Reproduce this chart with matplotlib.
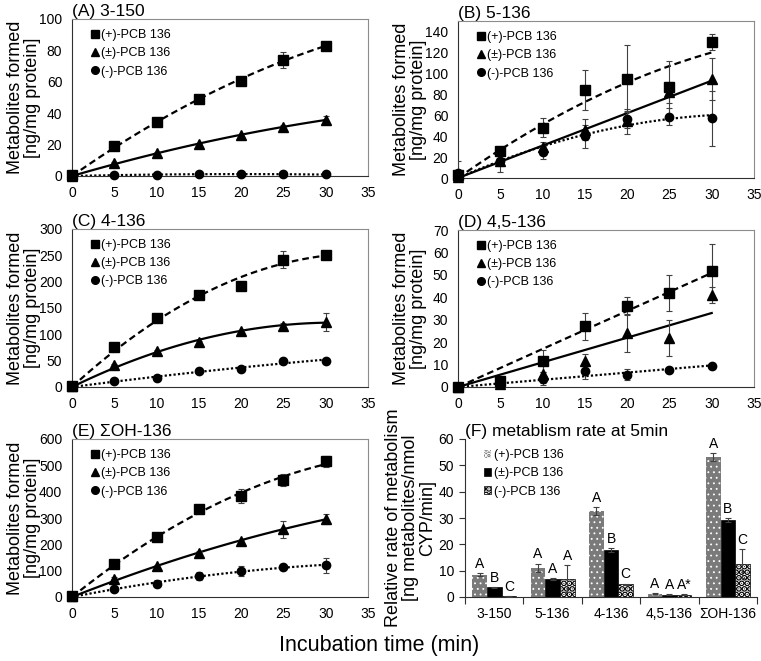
import numpy as np
import matplotlib.pyplot as plt
from matplotlib.lines import Line2D
from matplotlib.patches import Patch

plt.rcParams['font.family'] = ['Liberation Sans', 'DejaVu Sans']

# ---- data ----
time_min = [0, 5, 10, 15, 20, 25, 30]
series_labels = ['(+)-PCB 136', '(±)-PCB 136', '(-)-PCB 136']

# (A) 3-150
a_plus = [0.5, 19.1, 34.7, 49.0, 60.4, 74.0, 83.0]
a_plus_err = [0, 0.5, 1, 1, 2, 5, 1.5]
a_rac = [0.3, 8.1, 14.5, 20.2, 26.2, 31.5, 35.7]
a_rac_err = [0, 0.5, 0.5, 0.5, 0.5, 1, 2.2]
a_minus = [0.2, 0.5, 0.8, 1.5, 1.0, 1.0, 1.0]
a_minus_err = [0, 0, 0, 0.3, 0, 0, 0]

# (B) 5-136
b_plus = [3, 26, 48, 84, 95, 86.5, 130]
b_plus_err = [3, 3, 9, 19, 32, 25, 8]
b_rac = [1, 16, 30, 46, 54, 82, 95]
b_rac_err = [2, 10, 4, 10, 12, 10, 20]
b_minus = [5, 16, 25, 40, 56, 58.5, 57]
b_minus_err = [11, 5, 7, 11, 8, 8, 26]

# (C) 4-136
c_plus = [2, 76, 131.6, 175, 191, 241.5, 251]
c_plus_err = [0, 3, 4, 3, 4, 16, 5]
c_rac = [2, 41, 68.7, 86, 106, 116, 124]
c_rac_err = [0, 2, 2, 2, 3, 5, 17]
c_minus = [1, 11, 17, 30, 35, 49, 50]
c_minus_err = [0, 1, 1, 2, 2, 6, 3]

# (D) 4,5-136
d_plus = [0, 2.5, 11.5, 27, 36.2, 42, 51.7]
d_plus_err = [0, 1, 5, 6, 4, 8, 12]
d_rac = [0, 1.5, 6, 11.6, 24, 22, 41]
d_rac_err = [0, 1, 4, 3, 8.5, 8, 3.5]
d_minus = [0, 1.5, 3.7, 7, 5.5, 7.8, 9.2]
d_minus_err = [0, 0.5, 3, 3.5, 2.5, 1, 0.5]

# (E) sum OH-136
e_plus = [5, 127, 229, 333, 384, 445, 515]
e_plus_err = [5, 5, 8, 12, 28, 22, 20]
e_rac = [5, 70, 117, 168, 212, 257, 297]
e_rac_err = [3, 5, 5, 5, 5, 33, 20]
e_minus = [3, 29, 51, 79, 98, 114, 120]
e_minus_err = [3, 5, 12, 15, 20, 12, 28]

# (F) metabolism rate at 5 min
f_categories = ['3-150', '5-136', '4-136', '4,5-136', 'ΣOH-136']
f_plus = [8.4, 11.1, 32.6, 1.2, 53.2]
f_plus_err = [0.6, 1.6, 1.5, 0.2, 1.6]
f_rac = [3.7, 6.8, 17.8, 0.9, 29.2]
f_rac_err = [0.2, 0.4, 0.8, 0.1, 0.9]
f_minus = [0.2, 7.0, 4.9, 0.6, 12.7]
f_minus_err = [0.1, 5.0, 0.2, 0.6, 5.4]
f_letters_plus = ['A', 'A', 'A', 'A', 'A']
f_letters_rac = ['B', 'A', 'B', 'A', 'B']
f_letters_minus = ['C', 'A', 'C', 'A*', 'C']


def trend(t, y, deg):
    # least squares polynomial through the origin (like an Excel trendline)
    t = np.asarray(t, float)
    y = np.asarray(y, float)
    X = np.column_stack([t ** k for k in range(1, deg + 1)])
    coef = np.linalg.lstsq(X, y, rcond=None)[0]
    tt = np.linspace(0, 30, 120)
    return tt, np.column_stack([tt ** k for k in range(1, deg + 1)]) @ coef


W, H = 761, 661
fig = plt.figure(figsize=(W / 100, H / 100), dpi=100)


def px_axes(left, top, right, bottom):
    return fig.add_axes([left / W, 1 - bottom / H, (right - left) / W, (bottom - top) / H])


markers = ['s', '^', 'o']
msizes = [6.5, 6.5, 6]
lstyles = [(0, (3, 1.8)), '-', (0, (1, 1))]

panels = [
    ('(A) 3-150', (72, 19, 368, 176), (a_plus, a_rac, a_minus),
     (a_plus_err, a_rac_err, a_minus_err), (2, 2, 2), 100, 100, 20),
    ('(B) 5-136', (458, 21, 754, 178), (b_plus, b_rac, b_minus),
     (b_plus_err, b_rac_err, b_minus_err), (2, 1, 2), 150, 140, 20),
    ('(C) 4-136', (72, 229, 368, 387), (c_plus, c_rac, c_minus),
     (c_plus_err, c_rac_err, c_minus_err), (2, 2, 2), 300, 300, 50),
    ('(D) 4,5-136', (458, 230, 754, 387), (d_plus, d_rac, d_minus),
     (d_plus_err, d_rac_err, d_minus_err), (1, 1, 1), 70, 70, 10),
    ('(E) ΣOH-136', (72, 439, 368, 597), (e_plus, e_rac, e_minus),
     (e_plus_err, e_rac_err, e_minus_err), (2, 2, 2), 600, 600, 100),
]

for title, box, ys, errs, degs, ymax, ytop, ystep in panels:
    ax = px_axes(*box)
    for i in range(3):
        tt, yy = trend(time_min, ys[i], degs[i])
        ax.plot(tt, yy, color='black', lw=1.6, linestyle=lstyles[i], zorder=2)
        ax.errorbar(time_min, ys[i], yerr=errs[i], fmt='none', ecolor='#404040',
                    elinewidth=0.8, capsize=2.2, capthick=0.8, zorder=3)
        ax.plot(time_min, ys[i], linestyle='none', marker=markers[i], ms=msizes[i],
                color='black', zorder=4, clip_on=False)
    ax.set_xlim(0, 35)
    ax.set_ylim(0, ymax)
    ax.set_xticks(range(0, 36, 5))
    ax.set_yticks(range(0, ytop + 1, ystep))
    ax.tick_params(length=0, labelsize=10, pad=7)
    for s in ['top', 'right']:
        ax.spines[s].set_color('#8c8c8c')
    for s in ['left', 'bottom']:
        ax.spines[s].set_color('#303030')
    for s in ax.spines.values():
        s.set_linewidth(0.8)
    ax.set_title(title, loc='left', fontsize=12.5, pad=2)
    ax.set_ylabel('Metabolites formed\n[ng/mg protein]', fontsize=13, linespacing=1.0)
    ax.yaxis.set_label_coords(-0.105, 0.5)
    handles = [Line2D([], [], marker=markers[i], ms=msizes[i] - 0.5, color='black', linestyle='none')
               for i in range(3)]
    ax.legend(handles, series_labels, loc='upper left', frameon=False, fontsize=9,
              handlelength=0.6, handletextpad=0.2, labelspacing=0.5,
              borderaxespad=0.4, bbox_to_anchor=(0.03, 1.0))

# ---- panel F: bars ----
ax = px_axes(465, 439, 757, 597)
x = np.arange(len(f_categories))
w = 0.25
bar_sets = [
    (f_plus, f_plus_err, f_letters_plus,
     dict(facecolor='#7a7a7a', edgecolor='white', hatch='...', linewidth=0), 0.6),
    (f_rac, f_rac_err, f_letters_rac,
     dict(facecolor='black', edgecolor='black', linewidth=0.5), 1.0),
    (f_minus, f_minus_err, f_letters_minus,
     dict(facecolor='white', edgecolor='black', hatch='...', linewidth=0.5), 3.2),
]
bar_handles = []
for j, (vals, err, letters, style, hlw) in enumerate(bar_sets):
    plt.rcParams['hatch.linewidth'] = hlw
    pos = x + (j - 1) * w
    ax.bar(pos, vals, width=w, zorder=2, **style)
    bar_handles.append(Patch(**style))
    ax.errorbar(pos, vals, yerr=err, fmt='none', ecolor='#404040', elinewidth=0.8,
                capsize=2.2, capthick=0.8, zorder=3)
    for p, v, e, lab in zip(pos, vals, err, letters):
        ax.text(p, v + e + 0.8, lab, ha='center', va='bottom', fontsize=10)

ax.set_xlim(-0.5, 4.5)
ax.set_ylim(0, 60)
ax.set_yticks(range(0, 61, 10))
ax.set_xticks(x)
ax.set_xticklabels(f_categories)
ax.set_xticks(np.arange(-0.5, 4.6, 1), minor=True)
ax.tick_params(axis='x', which='major', length=0, labelsize=10, pad=7)
ax.tick_params(axis='x', which='minor', length=5, width=0.8, color='#303030')
ax.tick_params(axis='y', length=4, width=0.8, color='#303030', labelsize=10, pad=4)
ax.spines['top'].set_visible(False)
ax.spines['right'].set_visible(False)
for s in ['left', 'bottom']:
    ax.spines[s].set_color('#303030')
    ax.spines[s].set_linewidth(0.8)
ax.set_title('(F) metablism rate at 5min', loc='left', fontsize=12.5, pad=2)
ax.set_ylabel('Relative rate of metabolism\n[ng metabolites/nmol\nCYP/min]', fontsize=13,
              linespacing=1.0)
ax.yaxis.set_label_coords(-0.1, 0.5)
ax.legend(bar_handles, series_labels, loc='upper left', frameon=False, fontsize=9,
          handlelength=0.6, handleheight=0.6, handletextpad=0.2, labelspacing=0.5,
          borderaxespad=0.4, bbox_to_anchor=(0.03, 1.0))

fig.text(0.498, 0.024, 'Incubation time (min)', ha='center', va='center', fontsize=15.5)

fig.savefig('out.png', dpi=100)
